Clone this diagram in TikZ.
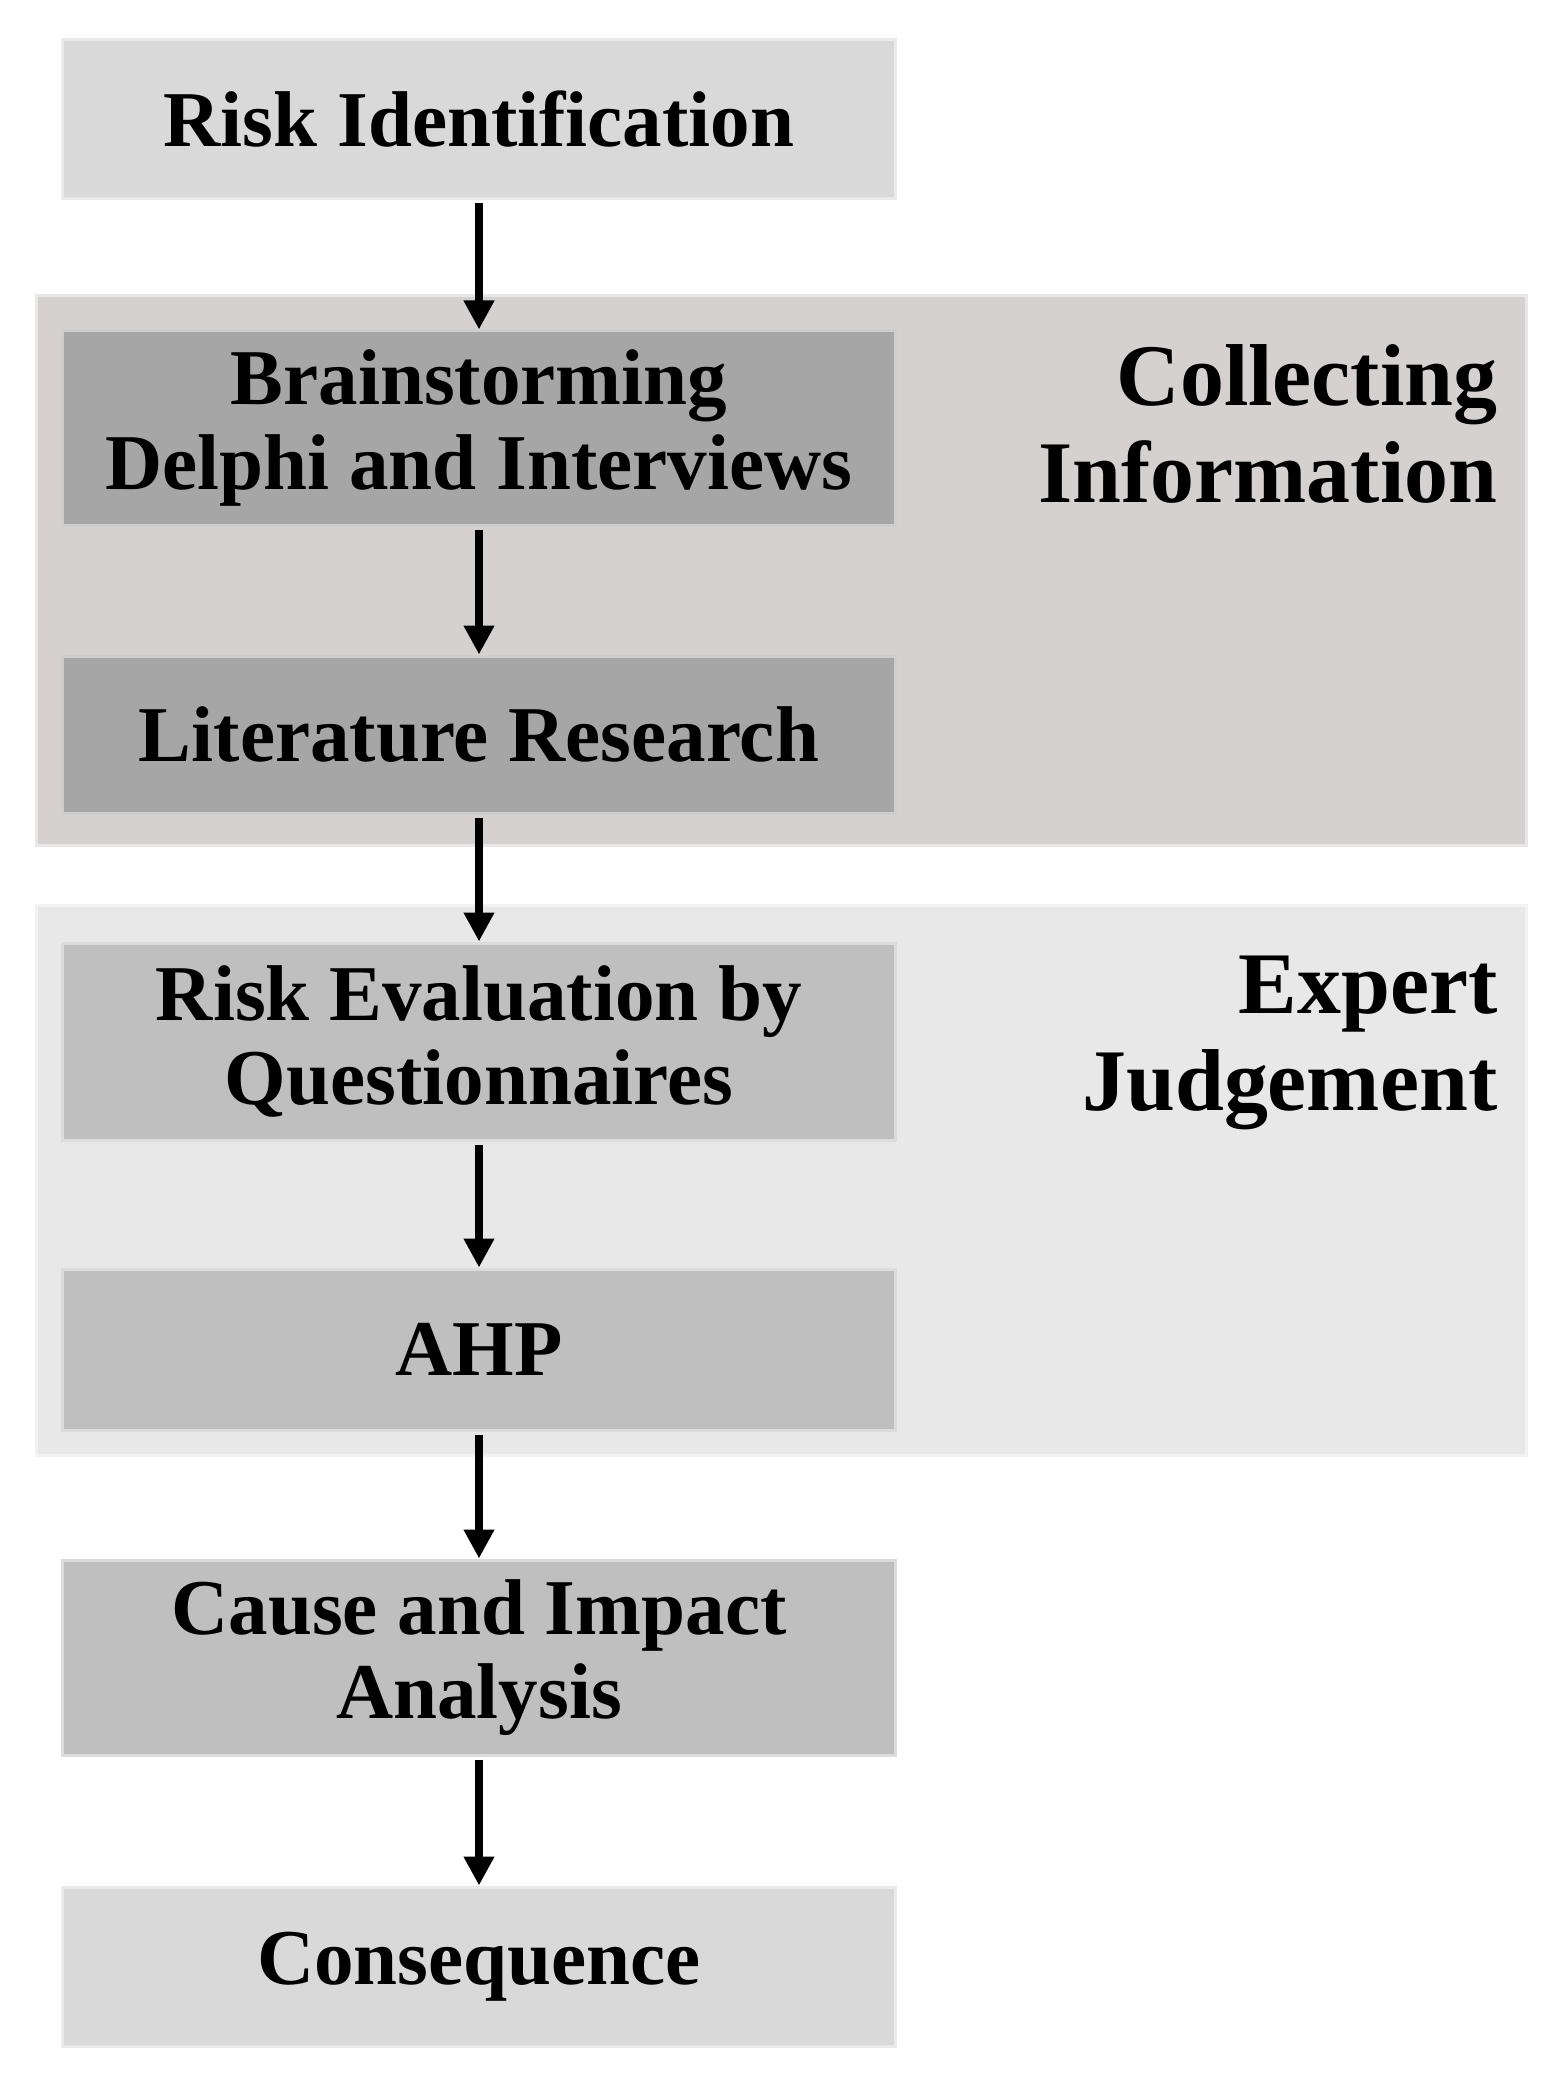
\documentclass[tikz,border=0pt]{standalone}
\usepackage{fontspec}
\setmainfont{Liberation Serif}
\definecolor{endgray}{RGB}{217, 217, 217}
\definecolor{collectgray}{RGB}{213, 209, 209}
\definecolor{collectstep}{RGB}{166, 166, 166}
\definecolor{expertgray}{RGB}{232, 232, 232}
\definecolor{expertstep}{RGB}{191, 191, 191}
\usetikzlibrary{arrows.meta, positioning}
\tikzset{
  stepbox/.style={fill=#1, draw=#1!55!white, line width=0.03cm, minimum width=8.32cm,
    inner sep=0pt, align=center, font=\fontsize{22.5}{24}\selectfont\bfseries},
  panel/.style={fill=#1, draw=#1!55!white, line width=0.03cm},
  sidelabel/.style={align=right, inner sep=0pt, font=\fontsize{25}{27.5}\selectfont\bfseries},
  flow/.style={-{Triangle[width=0.29cm, length=0.29cm]}, line width=0.085cm, shorten <=0.03cm}
}

\begin{document}
\begin{tikzpicture}
  \useasboundingbox (0, 0) rectangle (15.63, -20.76);

  % Panels
  \draw[panel=collectgray] (0.36, -2.96) rectangle (15.26, -8.45);
  \draw[panel=expertgray] (0.36, -9.05) rectangle (15.26, -14.55);

  \node[sidelabel, anchor=base east] (collectlbl) at (14.98, -5.02) {Collecting\\Information};
  \node[sidelabel, anchor=base east] (expertlbl) at (14.98, -11.10) {Expert\\Judgement};

  % Steps
  \node[stepbox=endgray, minimum height=1.59cm] (riskid) at (4.79, -1.195) {Risk Identification};
  \node[stepbox=collectstep, minimum height=1.94cm] (brain) at (4.79, -4.28) {Brainstorming\\Delphi and Interviews};
  \node[stepbox=collectstep, minimum height=1.57cm] (litres) at (4.79, -7.345) {Literature Research};
  \node[stepbox=expertstep, minimum height=1.97cm] (riskeval) at (4.79, -10.415) {Risk Evaluation by\\Questionnaires};
  \node[stepbox=expertstep, minimum height=1.61cm] (ahp) at (4.79, -13.495) {AHP};
  \node[stepbox=expertstep, minimum height=1.95cm] (cause) at (4.79, -16.575) {Cause and Impact\\Analysis};
  \node[stepbox=endgray, minimum height=1.59cm] (conseq) at (4.79, -19.665) {Consequence};

  % Arrows
  \draw[flow] (riskid) -- (brain);
  \draw[flow] (brain) -- (litres);
  \draw[flow] (litres) -- (riskeval);
  \draw[flow] (riskeval) -- (ahp);
  \draw[flow] (ahp) -- (cause);
  \draw[flow] (cause) -- (conseq);
\end{tikzpicture}
\end{document}
